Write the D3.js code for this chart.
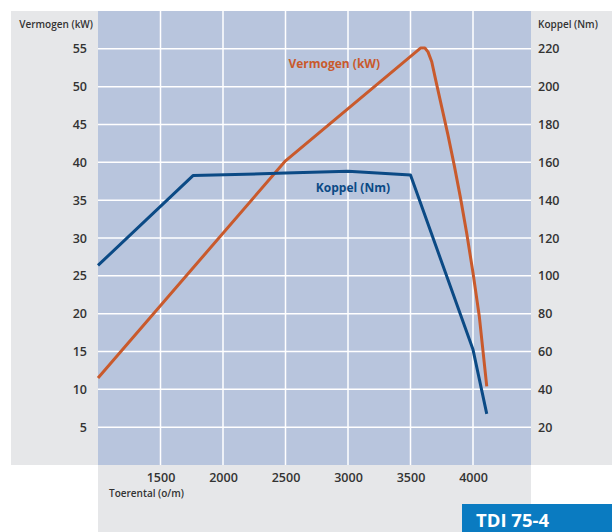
<!DOCTYPE html>
<html><head><meta charset="utf-8">
<script src="https://cdn.jsdelivr.net/npm/d3@7"></script>
<style>body{margin:0;background:#fff}svg{display:block}text{font-family:"Open Sans",sans-serif}</style>
</head><body><svg id="c" width="612" height="532"></svg>
<script>
const xTicks = [1500, 2000, 2500, 3000, 3500, 4000];
const kwTicks = [5, 10, 15, 20, 25, 30, 35, 40, 45, 50, 55];
const nmTicks = [20, 40, 60, 80, 100, 120, 140, 160, 180, 200, 220];
const kwRpm = [1000, 2500, 3580, 3615, 3640, 3670, 3700, 3750, 3800, 3850, 3900, 3950, 4000, 4050, 4110];
const kwVal = [11.5, 40.2, 55.1, 55.1, 54.6, 53.3, 51.0, 47.3, 43.6, 39.6, 35.3, 30.6, 25.4, 19.7, 10.4];
const nmRpm = [1000, 1760, 2500, 3000, 3500, 4000, 4110];
const nmVal = [105.5, 153, 154.3, 155.3, 153.3, 61, 27];
const titleLeft = "Vermogen (kW)", titleRight = "Koppel (Nm)", titleX = "Toerental (o/m)", badge = "TDI 75-4";

const svg = d3.select("#c");
const L = 98, R = 531, T = 11, B = 465;
const x = d3.scaleLinear().domain([1000, 4000]).range([L, 473]);
const yk = d3.scaleLinear().domain([0, 60]).range([B, T]);
const yn = d3.scaleLinear().domain([0, 240]).range([B, T]);
const gray = "#e6e7e9", txt = "#333";

svg.append("rect").attr("x", 11).attr("y", T).attr("width", L - 11).attr("height", B - T).attr("fill", gray);
svg.append("rect").attr("x", R).attr("y", T).attr("width", 612 - R).attr("height", B - T).attr("fill", gray);
svg.append("rect").attr("x", L).attr("y", B).attr("width", R - L).attr("height", 532 - B).attr("fill", gray);
svg.append("rect").attr("x", L).attr("y", T).attr("width", R - L).attr("height", B - T).attr("fill", "#b8c5dd");

// grid
svg.append("g").selectAll("line").data(xTicks).join("line")
  .attr("x1", d => x(d)).attr("x2", d => x(d)).attr("y1", T).attr("y2", B)
  .attr("stroke", "#fff").attr("stroke-width", 1.5);
svg.append("g").selectAll("line").data(kwTicks).join("line")
  .attr("x1", L).attr("x2", R).attr("y1", d => yk(d)).attr("y2", d => yk(d))
  .attr("stroke", "#fff").attr("stroke-width", 1.5);

// axes (labels only)
const ax = svg.append("g").attr("transform", `translate(0,${B})`)
  .call(d3.axisBottom(x).tickValues(xTicks).tickFormat(d3.format("d")).tickSize(0).tickPadding(8));
const ayl = svg.append("g").attr("transform", `translate(${L},0)`)
  .call(d3.axisLeft(yk).tickValues(kwTicks).tickSize(0).tickPadding(11));
const ayr = svg.append("g").attr("transform", `translate(${R},0)`)
  .call(d3.axisRight(yn).tickValues(nmTicks).tickSize(0).tickPadding(7));
[ax, ayl, ayr].forEach(g => {
  g.select(".domain").remove();
  g.selectAll("text").attr("fill", txt).attr("font-size", 12.5).attr("font-weight", 600)
    .attr("font-family", '"Open Sans",sans-serif');
});

svg.append("text").attr("x", 93).attr("y", 28).attr("text-anchor", "end")
  .attr("font-size", 10).attr("font-weight", 600).attr("fill", txt).text(titleLeft);
svg.append("text").attr("x", 538).attr("y", 28)
  .attr("font-size", 10).attr("font-weight", 600).attr("fill", txt).text(titleRight);
svg.append("text").attr("x", 109).attr("y", 497)
  .attr("font-size", 10).attr("font-weight", 600).attr("fill", txt).text(titleX);

// lines
const lk = d3.line().x(d => x(d[0])).y(d => yk(d[1]));
const ln = d3.line().x(d => x(d[0])).y(d => yn(d[1]));
svg.append("path").datum(kwRpm.map((r, i) => [r, kwVal[i]])).attr("d", lk)
  .attr("fill", "none").attr("stroke", "#c95a2c").attr("stroke-width", 3).attr("stroke-linejoin", "round");
svg.append("path").datum(nmRpm.map((r, i) => [r, nmVal[i]])).attr("d", ln)
  .attr("fill", "none").attr("stroke", "#0b4a85").attr("stroke-width", 3).attr("stroke-linejoin", "round");

svg.append("text").attr("x", 380).attr("y", 68).attr("text-anchor", "end")
  .attr("font-size", 12).attr("font-weight", 700).attr("fill", "#c95a2c").text("Vermogen (kW)");
svg.append("text").attr("x", 390).attr("y", 192).attr("text-anchor", "end")
  .attr("font-size", 12).attr("font-weight", 700).attr("fill", "#0b4a85").text("Koppel (Nm)");

// badge
svg.append("rect").attr("x", 462).attr("y", 504).attr("width", 150).attr("height", 28).attr("fill", "#0a7bc1");
svg.append("text").attr("x", 476).attr("y", 527).attr("font-size", 18.5).attr("font-weight", 700)
  .attr("fill", "#fff").text(badge);
</script></body></html>
